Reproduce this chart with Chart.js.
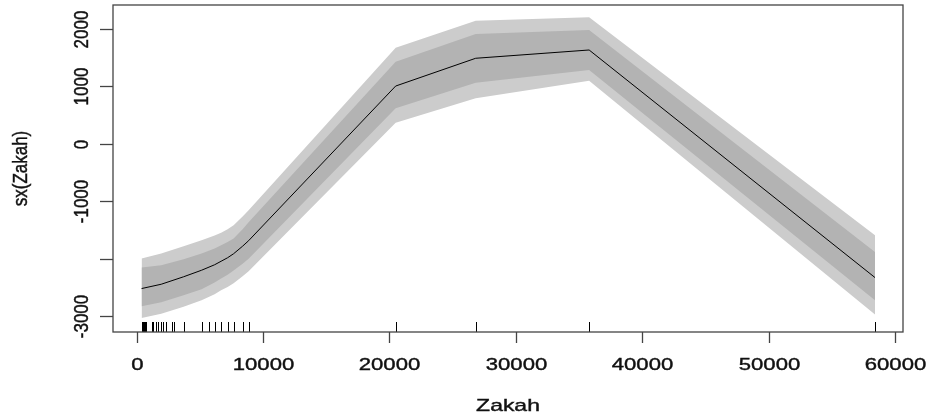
<!DOCTYPE html>
<html>
<head>
<meta charset="utf-8">
<title>sx(Zakah)</title>
<script src="https://cdn.jsdelivr.net/npm/chart.js@4.4.1/dist/chart.umd.min.js"></script>
<style>
  html, body { margin: 0; padding: 0; background: #fff; }
  canvas { display: block; }
</style>
</head>
<body>
<canvas id="smoothChart" width="928" height="419"></canvas>
<script>
/* ===============================
   DATA
================================ */
const zakahX = [396, 1950, 3718, 5142, 6171, 6685, 7199, 7674, 8386, 8861, 20491, 26820, 35791, 58400];
const fitY = [-2519, -2444, -2314, -2200, -2105, -2044, -1983, -1913, -1782, -1686, 1005, 1488, 1632, -2328];

const innerUpper = [-2153, -2113, -2009, -1909, -1820, -1764, -1711, -1648, -1487, -1364, 1429, 1911, 1981, -1882];
const innerLower = [-2828, -2758, -2636, -2531, -2415, -2344, -2278, -2205, -2087, -2000, 617, 1063, 1284, -2723];
const outerUpper = [-1997, -1909, -1782, -1678, -1595, -1547, -1488, -1418, -1267, -1155, 1672, 2143, 2202, -1591];
const outerLower = [-3030, -2958, -2836, -2723, -2617, -2549, -2493, -2428, -2307, -2218, 366, 791, 1098, -2972];

const rugX = [396, 475, 554, 633, 712, 1240, 1330, 1503, 1701, 1899, 2097, 2294, 2769, 2927,
  3718, 5142, 5696, 6171, 6685, 7199, 7674, 8386, 8861, 20491, 26820, 35791, 58400];

const xTicks = [0, 10000, 20000, 30000, 40000, 50000, 60000];
const yTicks = [-3000, -2000, -1000, 0, 1000, 2000];
const yTickLabels = ["-3000", "", "-1000", "0", "1000", "2000"];

const xTitle = "Zakah";
const yTitle = "sx(Zakah)";

/* ===============================
   HELPERS
================================ */
const FONT = "17px 'Liberation Sans', Arial, sans-serif";

function toPoints(ys) {
  return zakahX.map((x, i) => ({ x: x, y: ys[i] }));
}

// R output is a little stretched sideways, so text gets a horizontal scale
function drawText(ctx, text, x, y, angle, stretch) {
  ctx.save();
  ctx.translate(x, y);
  ctx.scale(stretch, 1);
  ctx.rotate(angle);
  ctx.fillText(text, 0, 0);
  ctx.strokeText(text, 0, 0);
  ctx.restore();
}

/* ===============================
   R-STYLE AXES + RUG
================================ */
const rAxesPlugin = {
  id: "rAxes",
  afterDraw(chart) {
    const ctx = chart.ctx;
    const area = chart.chartArea;
    const xs = chart.scales.x;
    const ys = chart.scales.y;

    ctx.save();

    // rug
    ctx.strokeStyle = "#000";
    ctx.lineWidth = 1;
    rugX.forEach(v => {
      const px = Math.round(xs.getPixelForValue(v)) + 0.5;
      ctx.beginPath();
      ctx.moveTo(px, area.bottom);
      ctx.lineTo(px, area.bottom - 10);
      ctx.stroke();
    });

    // box
    ctx.strokeStyle = "#444";
    ctx.lineWidth = 1.3;
    ctx.strokeRect(area.left, area.top, area.right - area.left, area.bottom - area.top);

    // x ticks
    ctx.font = FONT;
    ctx.textAlign = "center";
    ctx.textBaseline = "middle";
    xTicks.forEach(v => {
      const px = Math.round(xs.getPixelForValue(v)) + 0.5;
      ctx.strokeStyle = "#444";
      ctx.lineWidth = 1.3;
      ctx.beginPath();
      ctx.moveTo(px, area.bottom);
      ctx.lineTo(px, area.bottom + 11);
      ctx.stroke();
      ctx.fillStyle = "#111";
      ctx.strokeStyle = "#111";
      ctx.lineWidth = 0.4;
      drawText(ctx, String(v), px, 365, 0, 1.3);
    });

    // y ticks
    yTicks.forEach((v, i) => {
      const py = Math.round(ys.getPixelForValue(v)) + 0.5;
      ctx.strokeStyle = "#444";
      ctx.lineWidth = 1.3;
      ctx.beginPath();
      ctx.moveTo(area.left, py);
      ctx.lineTo(area.left - 13, py);
      ctx.stroke();
      if (yTickLabels[i]) {
        ctx.strokeStyle = "#111";
        ctx.lineWidth = 0.4;
        drawText(ctx, yTickLabels[i], 83, py, -Math.PI / 2, 1.15);
      }
    });

    // titles
    ctx.strokeStyle = "#111";
    ctx.lineWidth = 0.4;
    drawText(ctx, xTitle, (area.left + area.right) / 2, 406, 0, 1.35);
    drawText(ctx, yTitle, 22, (area.top + area.bottom) / 2, -Math.PI / 2, 1.15);

    ctx.restore();
  }
};

/* ===============================
   CHART
================================ */
const bandStyle = {
  borderWidth: 0,
  borderColor: "rgba(0,0,0,0)",
  pointRadius: 0,
  tension: 0
};

new Chart(document.getElementById("smoothChart").getContext("2d"), {
  type: "line",
  data: {
    datasets: [
      {
        label: "fit",
        data: toPoints(fitY),
        borderColor: "#000",
        borderWidth: 1,
        pointRadius: 0,
        tension: 0,
        fill: false,
        order: 0
      },
      { ...bandStyle, label: "inner upper", data: toPoints(innerUpper), backgroundColor: "#b3b3b3", fill: "+1", order: 1 },
      { ...bandStyle, label: "inner lower", data: toPoints(innerLower), fill: false, order: 1 },
      { ...bandStyle, label: "outer upper", data: toPoints(outerUpper), backgroundColor: "#cccccc", fill: "+1", order: 2 },
      { ...bandStyle, label: "outer lower", data: toPoints(outerLower), fill: false, order: 2 }
    ]
  },
  options: {
    responsive: false,
    animation: false,
    devicePixelRatio: 1,
    layout: {
      padding: { left: 113, top: 5, right: 25, bottom: 87 }
    },
    plugins: {
      legend: { display: false },
      tooltip: { enabled: false }
    },
    scales: {
      x: { type: "linear", display: false, min: -1864, max: 60614 },
      y: { type: "linear", display: false, min: -3275, max: 2415 }
    }
  },
  plugins: [rAxesPlugin]
});
</script>
</body>
</html>
